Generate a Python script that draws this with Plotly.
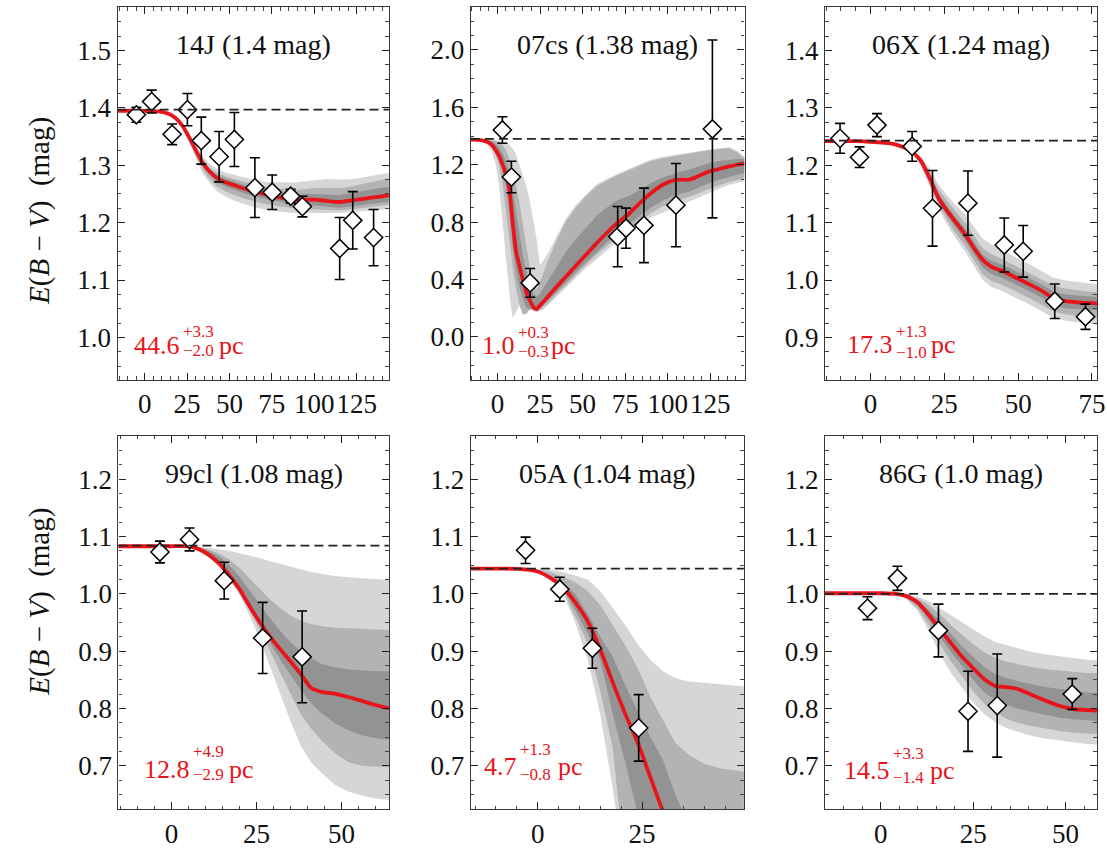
import plotly.graph_objects as go

# ---------------- data ----------------
# Panel 1: 14J
p1_title = "14J (1.4 mag)"
p1_dist = ["44.6", "+3.3", "\u22122.0"]
p1_base = 1.397
p1_pt_x = [-4.9, 4.1, 16.2, 25.2, 33.4, 43.9, 52.9, 65.0, 75.2, 86.1, 93.0, 115.0, 122.7, 135.0]
p1_pt_y = [1.388, 1.411, 1.354, 1.397, 1.343, 1.315, 1.345, 1.261, 1.253, 1.246, 1.228, 1.155, 1.204, 1.174]
p1_pt_err = [0.013, 0.02, 0.018, 0.028, 0.041, 0.044, 0.047, 0.052, 0.03, 0.012, 0.018, 0.054, 0.05, 0.049]
p1_x = [-16, 0, 8, 14, 18, 22, 26, 30, 34, 38, 43, 48, 53, 60, 65, 72, 80, 88, 95, 100, 107, 115, 120, 125, 130, 135, 140, 144]
p1_med = [1.395, 1.395, 1.394, 1.39, 1.383, 1.37, 1.35, 1.327, 1.305, 1.29, 1.277, 1.27, 1.265, 1.258, 1.254, 1.249, 1.244, 1.24, 1.24, 1.24, 1.238, 1.236, 1.238, 1.24, 1.242, 1.244, 1.246, 1.248]
p1_light_hi = [1.395, 1.395, 1.394, 1.39, 1.384, 1.372, 1.356, 1.336, 1.317, 1.303, 1.293, 1.287, 1.283, 1.278, 1.274, 1.271, 1.27, 1.27, 1.272, 1.274, 1.276, 1.275, 1.275, 1.277, 1.28, 1.283, 1.285, 1.286]
p1_mid_hi = [1.395, 1.395, 1.394, 1.39, 1.384, 1.371, 1.353, 1.332, 1.311, 1.297, 1.286, 1.28, 1.276, 1.27, 1.266, 1.262, 1.259, 1.257, 1.258, 1.26, 1.261, 1.26, 1.262, 1.265, 1.268, 1.272, 1.275, 1.277]
p1_dark_hi = [1.395, 1.395, 1.394, 1.39, 1.383, 1.37, 1.352, 1.33, 1.308, 1.294, 1.282, 1.276, 1.271, 1.264, 1.26, 1.256, 1.252, 1.249, 1.25, 1.25, 1.249, 1.248, 1.25, 1.253, 1.256, 1.259, 1.261, 1.262]
p1_dark_lo = [1.395, 1.395, 1.394, 1.39, 1.383, 1.37, 1.348, 1.323, 1.3, 1.284, 1.27, 1.262, 1.257, 1.25, 1.246, 1.241, 1.236, 1.232, 1.231, 1.23, 1.228, 1.226, 1.227, 1.229, 1.231, 1.233, 1.235, 1.236]
p1_mid_lo = [1.395, 1.395, 1.394, 1.39, 1.382, 1.369, 1.345, 1.318, 1.294, 1.277, 1.262, 1.254, 1.248, 1.241, 1.237, 1.232, 1.228, 1.225, 1.224, 1.223, 1.222, 1.221, 1.222, 1.224, 1.226, 1.228, 1.23, 1.231]
p1_light_lo = [1.395, 1.395, 1.394, 1.39, 1.382, 1.368, 1.342, 1.313, 1.287, 1.27, 1.254, 1.245, 1.238, 1.231, 1.227, 1.222, 1.219, 1.217, 1.217, 1.217, 1.217, 1.217, 1.218, 1.219, 1.221, 1.222, 1.223, 1.224]

# Panel 2: 07cs
p2_title = "07cs (1.38 mag)"
p2_dist = ["1.0", "+0.3", "\u22120.3"]
p2_base = 1.38
p2_pt_x = [2.9, 8.2, 19.2, 70.6, 75.5, 86.0, 104.8, 126.2]
p2_pt_y = [1.442, 1.114, 0.376, 0.699, 0.757, 0.777, 0.918, 1.449]
p2_pt_err = [0.092, 0.11, 0.10, 0.21, 0.14, 0.26, 0.29, 0.62]
p2_x = [-16, -10, -6, -3, -1, 1, 3, 5, 7, 9, 11, 13, 15, 17, 19, 21, 23, 25, 27, 30, 35, 40, 46, 52, 58, 64, 70, 77, 84, 90, 97, 104, 108, 112, 116, 124, 130, 136, 141, 145]
p2_med = [1.375, 1.372, 1.36, 1.335, 1.3, 1.26, 1.2, 1.13, 1.03, 0.79, 0.59, 0.49, 0.395, 0.31, 0.255, 0.21, 0.193, 0.22, 0.245, 0.285, 0.352, 0.417, 0.495, 0.572, 0.65, 0.722, 0.79, 0.856, 0.937, 1.0, 1.06, 1.092, 1.096, 1.095, 1.11, 1.152, 1.17, 1.188, 1.2, 1.21]
p2_light_hi = [1.375, 1.375, 1.374, 1.372, 1.37, 1.367, 1.362, 1.355, 1.34, 1.31, 1.27, 1.2, 1.13, 1.05, 0.95, 0.82, 0.68, 0.5, 0.53, 0.59, 0.7, 0.82, 0.92, 0.99, 1.06, 1.1, 1.135, 1.17, 1.205, 1.235, 1.255, 1.267, 1.272, 1.28, 1.29, 1.305, 1.315, 1.322, 1.295, 1.255]
p2_mid_hi = [1.375, 1.374, 1.372, 1.368, 1.365, 1.36, 1.34, 1.3, 1.24, 1.15, 1.05, 0.93, 0.78, 0.62, 0.48, 0.36, 0.33, 0.38, 0.45, 0.54, 0.68, 0.8, 0.9, 0.98, 1.05, 1.09, 1.125, 1.16, 1.195, 1.225, 1.245, 1.26, 1.265, 1.275, 1.285, 1.3, 1.31, 1.315, 1.285, 1.245]
p2_dark_hi = [1.375, 1.374, 1.37, 1.36, 1.345, 1.32, 1.28, 1.22, 1.14, 1.02, 0.86, 0.7, 0.56, 0.45, 0.36, 0.3, 0.28, 0.3, 0.34, 0.4, 0.5, 0.59, 0.68, 0.76, 0.84, 0.9, 0.95, 0.98, 1.03, 1.07, 1.11, 1.14, 1.155, 1.165, 1.18, 1.21, 1.225, 1.235, 1.24, 1.24]
p2_dark_lo = [1.375, 1.372, 1.358, 1.33, 1.29, 1.24, 1.16, 1.05, 0.88, 0.62, 0.45, 0.34, 0.26, 0.2, 0.2, 0.19, 0.185, 0.2, 0.225, 0.26, 0.315, 0.375, 0.45, 0.52, 0.59, 0.655, 0.72, 0.78, 0.845, 0.9, 0.95, 0.985, 1.0, 1.01, 1.03, 1.07, 1.095, 1.115, 1.13, 1.14]
p2_mid_lo = [1.375, 1.37, 1.355, 1.32, 1.27, 1.19, 1.07, 0.9, 0.68, 0.48, 0.33, 0.22, 0.155, 0.16, 0.19, 0.185, 0.18, 0.19, 0.205, 0.235, 0.3, 0.36, 0.43, 0.5, 0.57, 0.63, 0.69, 0.75, 0.81, 0.86, 0.91, 0.94, 0.955, 0.97, 0.99, 1.03, 1.055, 1.08, 1.095, 1.105]
p2_light_lo = [1.375, 1.365, 1.34, 1.28, 1.2, 1.05, 0.82, 0.55, 0.3, 0.13, 0.18, 0.22, 0.155, 0.17, 0.2, 0.18, 0.17, 0.18, 0.19, 0.22, 0.28, 0.34, 0.41, 0.48, 0.54, 0.6, 0.66, 0.72, 0.78, 0.83, 0.87, 0.9, 0.92, 0.94, 0.96, 1.0, 1.03, 1.06, 1.075, 1.085]

# Panel 3: 06X
p3_title = "06X (1.24 mag)"
p3_dist = ["17.3", "+1.3", "\u22121.0"]
p3_base = 1.243
p3_pt_x = [-10.3, -3.7, 2.2, 14.1, 21.0, 33.0, 45.3, 51.7, 62.4, 72.8]
p3_pt_y = [1.247, 1.214, 1.270, 1.233, 1.125, 1.134, 1.061, 1.050, 0.963, 0.936]
p3_pt_err = [0.026, 0.018, 0.02, 0.026, 0.066, 0.056, 0.047, 0.045, 0.03, 0.022]
p3_x = [-16, -5, 0, 5, 8, 11, 14, 17, 20, 23, 26, 29, 32, 35, 38, 41, 44, 47, 50, 54, 58, 62, 66, 70, 74, 77]
p3_med = [1.242, 1.242, 1.241, 1.239, 1.237, 1.232, 1.224, 1.208, 1.178, 1.143, 1.12, 1.1, 1.08, 1.056, 1.035, 1.023, 1.017, 1.01, 1.002, 0.992, 0.981, 0.968, 0.963, 0.961, 0.96, 0.959]
p3_light_hi = [1.242, 1.242, 1.241, 1.239, 1.237, 1.232, 1.226, 1.216, 1.195, 1.167, 1.147, 1.13, 1.114, 1.093, 1.072, 1.062, 1.055, 1.046, 1.037, 1.027, 1.016, 1.004, 0.999, 0.996, 0.994, 0.992]
p3_mid_hi = [1.242, 1.242, 1.241, 1.239, 1.237, 1.232, 1.225, 1.212, 1.19, 1.158, 1.137, 1.118, 1.1, 1.077, 1.055, 1.045, 1.038, 1.03, 1.022, 1.012, 1.001, 0.99, 0.985, 0.982, 0.98, 0.978]
p3_dark_hi = [1.242, 1.242, 1.241, 1.239, 1.237, 1.232, 1.224, 1.21, 1.185, 1.151, 1.128, 1.108, 1.09, 1.066, 1.044, 1.033, 1.028, 1.021, 1.013, 1.003, 0.992, 0.98, 0.975, 0.973, 0.971, 0.97]
p3_dark_lo = [1.242, 1.242, 1.241, 1.239, 1.237, 1.232, 1.224, 1.206, 1.175, 1.138, 1.112, 1.09, 1.07, 1.045, 1.022, 1.01, 1.005, 0.998, 0.99, 0.98, 0.969, 0.956, 0.951, 0.949, 0.948, 0.947]
p3_mid_lo = [1.242, 1.242, 1.241, 1.239, 1.237, 1.232, 1.223, 1.203, 1.17, 1.132, 1.104, 1.08, 1.06, 1.035, 1.01, 0.998, 0.993, 0.986, 0.978, 0.968, 0.957, 0.945, 0.94, 0.937, 0.935, 0.933]
p3_light_lo = [1.242, 1.242, 1.241, 1.239, 1.237, 1.232, 1.222, 1.2, 1.164, 1.125, 1.096, 1.072, 1.05, 1.025, 1.0, 0.988, 0.982, 0.975, 0.967, 0.957, 0.946, 0.934, 0.929, 0.926, 0.924, 0.922]

# Panel 4: 99cl
p4_title = "99cl (1.08 mag)"
p4_dist = ["12.8", "+4.9", "\u22122.9"]
p4_base = 1.084
p4_pt_x = [-3.4, 5.3, 15.5, 26.8, 38.4]
p4_pt_y = [1.073, 1.095, 1.023, 0.923, 0.890]
p4_pt_err = [0.019, 0.02, 0.032, 0.062, 0.08]
p4_x = [-16, 0, 5, 8, 11, 14, 17, 20, 23, 26, 29, 32, 35, 38, 41, 44, 48, 52, 56, 60, 64]
p4_med = [1.083, 1.083, 1.083, 1.078, 1.068, 1.053, 1.032, 1.008, 0.978, 0.95, 0.925, 0.903, 0.882, 0.86, 0.836, 0.829, 0.826, 0.82, 0.813, 0.806, 0.8]
p4_light_hi = [1.083, 1.083, 1.083, 1.082, 1.08, 1.078, 1.075, 1.071, 1.067, 1.062, 1.057, 1.052, 1.047, 1.042, 1.038, 1.035, 1.031, 1.029, 1.027, 1.025, 1.024]
p4_mid_hi = [1.083, 1.083, 1.083, 1.081, 1.077, 1.07, 1.06, 1.045, 1.027, 1.008, 0.99, 0.975, 0.962, 0.953, 0.947, 0.944, 0.941, 0.94, 0.939, 0.938, 0.937]
p4_dark_hi = [1.083, 1.083, 1.083, 1.08, 1.075, 1.065, 1.05, 1.03, 1.005, 0.98, 0.957, 0.935, 0.915, 0.9, 0.888, 0.878, 0.872, 0.868, 0.866, 0.865, 0.865]
p4_dark_lo = [1.083, 1.083, 1.083, 1.077, 1.066, 1.05, 1.03, 1.005, 0.974, 0.945, 0.915, 0.885, 0.858, 0.832, 0.81, 0.792, 0.774, 0.762, 0.753, 0.748, 0.745]
p4_mid_lo = [1.083, 1.083, 1.082, 1.077, 1.065, 1.049, 1.028, 1.002, 0.97, 0.937, 0.9, 0.862, 0.825, 0.79, 0.765, 0.745, 0.722, 0.706, 0.7, 0.698, 0.697]
p4_light_lo = [1.083, 1.083, 1.082, 1.076, 1.063, 1.046, 1.025, 0.998, 0.962, 0.92, 0.874, 0.824, 0.777, 0.735, 0.706, 0.688, 0.667, 0.655, 0.648, 0.643, 0.64]

# Panel 5: 05A
p5_title = "05A (1.04 mag)"
p5_dist = ["4.7", "+1.3", "\u22120.8"]
p5_base = 1.044
p5_pt_x = [-2.9, 5.3, 13.1, 24.2]
p5_pt_y = [1.076, 1.008, 0.905, 0.766]
p5_pt_err = [0.023, 0.021, 0.035, 0.058]
p5_x = [-16, -8, -4, 0, 3, 6, 9, 12, 15, 18, 21, 24, 27, 30, 33, 36, 40, 44, 49.5]
p5_med = [1.044, 1.044, 1.043, 1.039, 1.028, 1.012, 0.985, 0.952, 0.903, 0.845, 0.79, 0.74, 0.68, 0.62, 0.56, 0.5, 0.45, 0.4, 0.35]
p5_light_hi = [1.044, 1.044, 1.044, 1.043, 1.042, 1.038, 1.032, 1.025, 1.005, 0.975, 0.945, 0.912, 0.885, 0.865, 0.853, 0.847, 0.845, 0.842, 0.838]
p5_mid_hi = [1.044, 1.044, 1.044, 1.042, 1.038, 1.03, 1.02, 1.005, 0.98, 0.945, 0.91, 0.87, 0.82, 0.78, 0.74, 0.72, 0.703, 0.695, 0.69]
p5_dark_hi = [1.044, 1.044, 1.044, 1.04, 1.032, 1.02, 1.0, 0.965, 0.925, 0.89, 0.84, 0.795, 0.75, 0.71, 0.65, 0.6, 0.55, 0.5, 0.45]
p5_dark_lo = [1.044, 1.044, 1.043, 1.039, 1.027, 1.01, 0.972, 0.93, 0.885, 0.79, 0.705, 0.615, 0.5, 0.4, 0.4, 0.4, 0.4, 0.4, 0.4]
p5_mid_lo = [1.044, 1.044, 1.043, 1.039, 1.027, 1.007, 0.96, 0.913, 0.83, 0.73, 0.52, 0.45, 0.4, 0.4, 0.4, 0.4, 0.4, 0.4, 0.4]
p5_light_lo = [1.044, 1.044, 1.043, 1.038, 1.025, 1.002, 0.95, 0.885, 0.79, 0.66, 0.5, 0.45, 0.4, 0.4, 0.4, 0.4, 0.4, 0.4, 0.4]

# Panel 6: 86G
p6_title = "86G (1.0 mag)"
p6_dist = ["14.5", "+3.3", "\u22121.4"]
p6_base = 1.0
p6_pt_x = [-3.6, 4.5, 15.6, 23.6, 31.5, 51.8]
p6_pt_y = [0.975, 1.027, 0.936, 0.795, 0.805, 0.825]
p6_pt_err = [0.02, 0.021, 0.046, 0.07, 0.09, 0.027]
p6_x = [-16, -4, 0, 4, 7, 10, 13, 16, 19, 22, 25, 28, 31, 34, 37, 40, 44, 48, 52, 56, 59]
p6_med = [1.001, 1.001, 1.001, 1.0, 0.996, 0.985, 0.963, 0.938, 0.914, 0.89, 0.87, 0.851, 0.839, 0.837, 0.834, 0.826, 0.815, 0.805, 0.799, 0.797, 0.796]
p6_light_hi = [1.001, 1.001, 1.001, 1.0, 0.999, 0.995, 0.987, 0.975, 0.963, 0.95, 0.938, 0.926, 0.916, 0.911, 0.905, 0.9, 0.895, 0.891, 0.888, 0.885, 0.884]
p6_mid_hi = [1.001, 1.001, 1.001, 1.0, 0.998, 0.992, 0.98, 0.965, 0.945, 0.928, 0.912, 0.898, 0.888, 0.882, 0.877, 0.873, 0.869, 0.866, 0.864, 0.862, 0.862]
p6_dark_hi = [1.001, 1.001, 1.001, 1.0, 0.997, 0.989, 0.972, 0.952, 0.93, 0.908, 0.89, 0.872, 0.86, 0.853, 0.848, 0.843, 0.838, 0.834, 0.831, 0.828, 0.827]
p6_dark_lo = [1.001, 1.001, 1.001, 1.0, 0.994, 0.98, 0.955, 0.925, 0.898, 0.873, 0.85, 0.828, 0.815, 0.806, 0.8, 0.795, 0.789, 0.784, 0.781, 0.779, 0.778]
p6_mid_lo = [1.001, 1.001, 1.001, 0.999, 0.992, 0.975, 0.945, 0.912, 0.882, 0.855, 0.83, 0.808, 0.793, 0.782, 0.775, 0.77, 0.765, 0.761, 0.758, 0.756, 0.755]
p6_light_lo = [1.001, 1.001, 1.001, 0.999, 0.99, 0.97, 0.935, 0.895, 0.862, 0.835, 0.81, 0.79, 0.776, 0.766, 0.759, 0.753, 0.748, 0.744, 0.741, 0.738, 0.737]

# ---------------- layout geometry (pixels in a 1107x849 page) ----------------
W, H = 1107, 849
SERIF = "Liberation Serif, Times New Roman, serif"
RED = "#e8141b"
BAND_COLORS = ["#d6d6d6", "#b3b3b3", "#939393"]

panels = [
    dict(title=p1_title, dist=p1_dist, base=p1_base, px=p1_pt_x, py=p1_pt_y, pe=p1_pt_err, x=p1_x, med=p1_med,
         bands=[(p1_light_lo, p1_light_hi), (p1_mid_lo, p1_mid_hi), (p1_dark_lo, p1_dark_hi)],
         xpix=(118.4, 391.7), ypix=(7, 383), xr=[-16, 144], yr=[0.926, 1.576], ydt=0.1, ymin=0.025,
         lab=dict(mr=182, sl=183, pc=220, mc=348, sc=334, bc=353)),
    dict(title=p2_title, dist=p2_dist, base=p2_base, px=p2_pt_x, py=p2_pt_y, pe=p2_pt_err, x=p2_x, med=p2_med,
         bands=[(p2_light_lo, p2_light_hi), (p2_mid_lo, p2_mid_hi), (p2_dark_lo, p2_dark_hi)],
         xpix=(474.3, 750), ypix=(7, 383), xr=[-15.6, 145.1], yr=[-0.3, 2.3], ydt=0.4, ymin=0.1,
         lab=dict(mr=520, sl=521, pc=554, mc=348, sc=335, bc=354)),
    dict(title=p3_title, dist=p3_dist, base=p3_base, px=p3_pt_x, py=p3_pt_y, pe=p3_pt_err, x=p3_x, med=p3_med,
         bands=[(p3_light_lo, p3_light_hi), (p3_mid_lo, p3_mid_hi), (p3_dark_lo, p3_dark_hi)],
         xpix=(831, 1105), ypix=(7, 383), xr=[-15.4, 76.7], yr=[0.826, 1.476], ydt=0.1, ymin=0.025,
         lab=dict(mr=901, sl=902, pc=937, mc=347, sc=334, bc=355)),
    dict(title=p4_title, dist=p4_dist, base=p4_base, px=p4_pt_x, py=p4_pt_y, pe=p4_pt_err, x=p4_x, med=p4_med,
         bands=[(p4_light_lo, p4_light_hi), (p4_mid_lo, p4_mid_hi), (p4_dark_lo, p4_dark_hi)],
         xpix=(119.3, 391.7), ypix=(439.3, 816), xr=[-15.6, 63.9], yr=[0.624, 1.276], ydt=0.1, ymin=0.025,
         lab=dict(mr=192, sl=193, pc=230, mc=776, sc=758, bc=781)),
    dict(title=p5_title, dist=p5_dist, base=p5_base, px=p5_pt_x, py=p5_pt_y, pe=p5_pt_err, x=p5_x, med=p5_med,
         bands=[(p5_light_lo, p5_light_hi), (p5_mid_lo, p5_mid_hi), (p5_dark_lo, p5_dark_hi)],
         xpix=(474.3, 749.3), ypix=(439.3, 816), xr=[-16.0, 49.4], yr=[0.624, 1.276], ydt=0.1, ymin=0.025,
         lab=dict(mr=522, sl=523, pc=561, mc=773, sc=756, bc=781)),
    dict(title=p6_title, dist=p6_dist, base=p6_base, px=p6_pt_x, py=p6_pt_y, pe=p6_pt_err, x=p6_x, med=p6_med,
         bands=[(p6_light_lo, p6_light_hi), (p6_mid_lo, p6_mid_hi), (p6_dark_lo, p6_dark_hi)],
         xpix=(831, 1105), ypix=(439.3, 816), xr=[-15.1, 58.5], yr=[0.624, 1.276], ydt=0.1, ymin=0.025,
         lab=dict(mr=897, sl=898, pc=936, mc=777, sc=760, bc=784)),
]

fig = go.Figure()
layout = dict(width=W, height=H, margin=dict(l=0, r=0, t=0, b=0),
              paper_bgcolor="white", plot_bgcolor="white", showlegend=False)
annotations = []
shapes = []

tickfont = dict(family=SERIF, size=27, color="#111111")
axis_common = dict(showgrid=False, zeroline=False, showline=True, linecolor="#3a3a3a", linewidth=1.2,
                   mirror="ticks", ticks="inside", ticklen=7, tickwidth=1.2, tickcolor="#222222",
                   tickfont=tickfont, ticklabeloverflow="allow", tickangle=0)

for i, p in enumerate(panels):
    n = i + 1
    xa = "x" if n == 1 else f"x{n}"
    ya = "y" if n == 1 else f"y{n}"
    xk = "xaxis" if n == 1 else f"xaxis{n}"
    yk = "yaxis" if n == 1 else f"yaxis{n}"

    for (lo, hi), col in zip(p["bands"], BAND_COLORS):
        fig.add_trace(go.Scatter(
            x=list(p["x"]) + list(p["x"])[::-1], y=list(hi) + list(lo)[::-1],
            fill="toself", fillcolor=col, line=dict(width=0), mode="lines",
            hoverinfo="skip", xaxis=xa, yaxis=ya))

    fig.add_trace(go.Scatter(x=p["x"], y=p["med"], mode="lines",
                             line=dict(color=RED, width=3.8, shape="spline", smoothing=0.5),
                             xaxis=xa, yaxis=ya))

    fig.add_trace(go.Scatter(
        x=p["px"], y=p["py"], mode="markers",
        marker=dict(symbol="diamond", size=14, color="white", line=dict(color="black", width=1.5)),
        error_y=dict(type="data", array=p["pe"], color="black", thickness=1.6, width=5),
        xaxis=xa, yaxis=ya))

    shapes.append(dict(type="line", xref=f"{xa} domain", x0=0, x1=1, yref=ya, y0=p["base"], y1=p["base"],
                       line=dict(color="#222222", width=1.7, dash="9px,5px"), layer="above"))

    xd = [p["xpix"][0] / W, p["xpix"][1] / W]
    yd = [1 - p["ypix"][1] / H, 1 - p["ypix"][0] / H]
    layout[xk] = dict(axis_common, domain=xd, range=p["xr"], anchor=ya, tick0=0, dtick=25,
                      minor=dict(ticks="inside", ticklen=3.5, tickwidth=1, tickcolor="#444444", dtick=5, tick0=0, showgrid=False))
    layout[yk] = dict(axis_common, domain=yd, range=p["yr"], anchor=xa, tick0=0, dtick=p["ydt"], tickformat=".1f",
                      minor=dict(ticks="inside", ticklen=3.5, tickwidth=1, tickcolor="#444444", dtick=p["ymin"], tick0=0, showgrid=False))

    # panel title
    annotations.append(dict(text=p["title"], xref=f"{xa} domain", yref=f"{ya} domain", x=0.5, y=0.9,
                            xanchor="center", yanchor="middle", showarrow=False,
                            font=dict(family=SERIF, size=28, color="#111111")))
    # distance label in red
    L = p["lab"]
    annotations.append(dict(text=p["dist"][0], xref="paper", yref="paper", x=L["mr"] / W, y=1 - L["mc"] / H,
                            xanchor="right", yanchor="middle", showarrow=False, borderpad=0,
                            font=dict(family=SERIF, size=26, color=RED)))
    annotations.append(dict(text=p["dist"][1], xref="paper", yref="paper", x=L["sl"] / W, y=1 - L["sc"] / H,
                            xanchor="left", yanchor="middle", showarrow=False, borderpad=0,
                            font=dict(family=SERIF, size=17, color=RED)))
    annotations.append(dict(text=p["dist"][2], xref="paper", yref="paper", x=L["sl"] / W, y=1 - L["bc"] / H,
                            xanchor="left", yanchor="middle", showarrow=False, borderpad=0,
                            font=dict(family=SERIF, size=17, color=RED)))
    annotations.append(dict(text="pc", xref="paper", yref="paper", x=L["pc"] / W, y=1 - L["mc"] / H,
                            xanchor="left", yanchor="middle", showarrow=False, borderpad=0,
                            font=dict(family=SERIF, size=26, color=RED)))

ytitle = "<i>E</i>(<i>B</i> \u2212 <i>V</i>)\u00a0\u00a0(mag)"
for cy in (213, 607):
    annotations.append(dict(text=ytitle, xref="paper", yref="paper", x=40 / W, y=1 - cy / H,
                            xanchor="center", yanchor="middle", textangle=-90, showarrow=False,
                            font=dict(family=SERIF, size=29, color="#111111")))

layout["annotations"] = annotations
layout["shapes"] = shapes
fig.update_layout(**layout)
fig.write_html("out.html")
